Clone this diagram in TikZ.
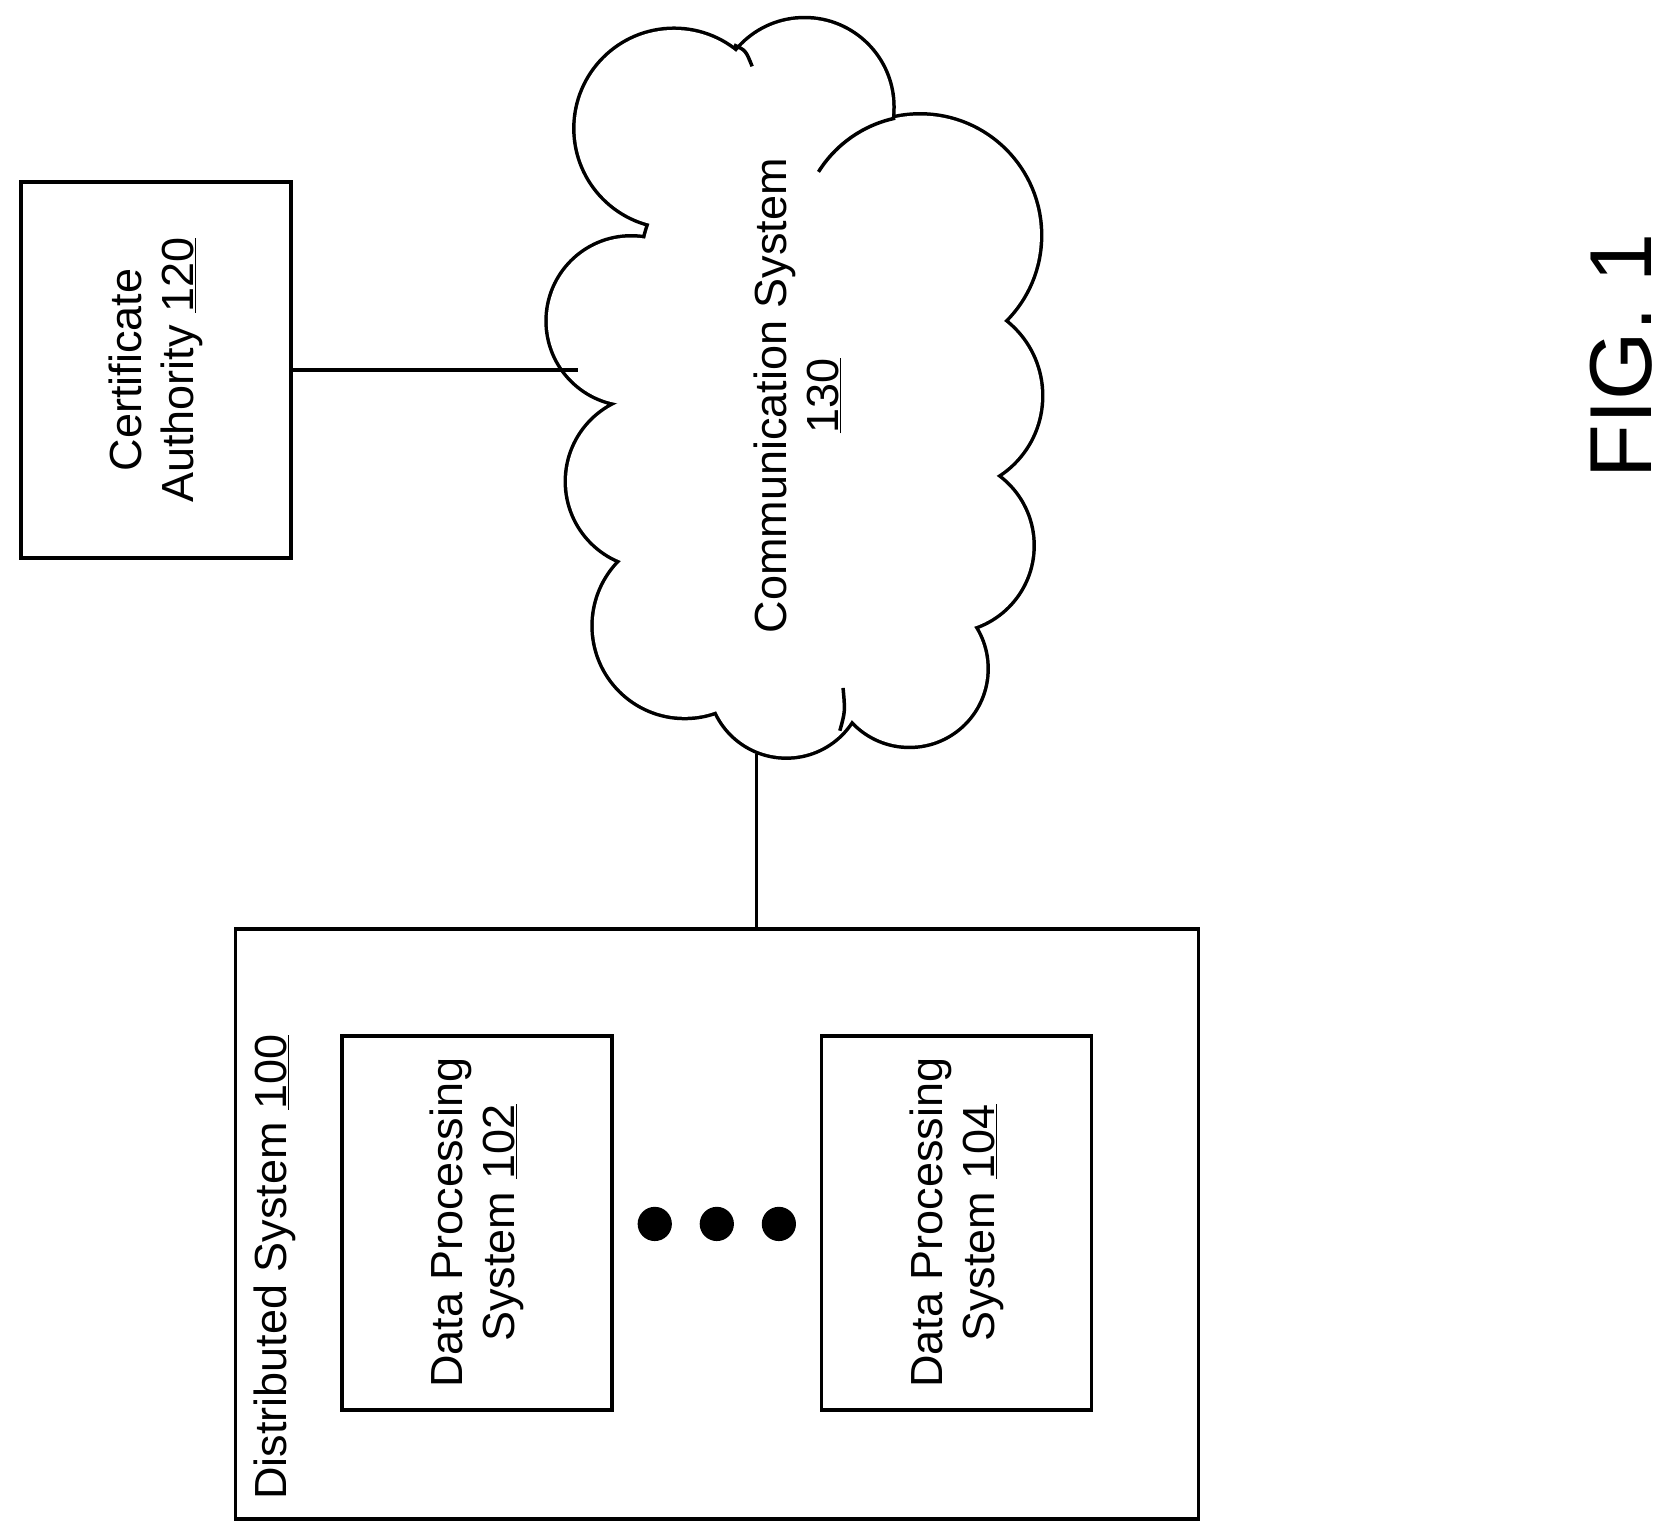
\documentclass[tikz,border=0pt]{standalone}
\usepackage{fontspec}
\setmainfont{Liberation Sans}
\begin{document}
\begin{tikzpicture}[x=1.07pt,y=-1.07pt,
  box/.style={draw,line width=3.5pt,inner sep=0},
  lbl/.style={font=\fontsize{45}{52}\selectfont,align=center,rotate=90},
  ln/.style={line width=3.5pt}]
\useasboundingbox (0,0) rectangle (1560,1434);
\def\cl{(630,120) circle (92) (752,100) circle (82) (860,220) circle (112) (885,370) circle (88) (885,510) circle (80) (850,625) circle (72) (735,635) circle (72) (640,585) circle (85) (610,450) circle (80) (590,300) circle (78) (720,250) circle (120) (740,400) circle (150) (740,540) circle (110)}
\draw[line width=7pt] \cl;
\fill[white] \cl;
\draw[ln] (686,42) .. controls (697,47) .. (703,62);
\draw[ln] (860,220) ++(258:112) arc[start angle=258,end angle=212,radius=112];
\draw[ln] (785,683) .. controls (790,665) .. (788,643);
\node[box,minimum width=270pt,minimum height=376pt] (ca) at (146,346) {};
\node[lbl] at (ca.center) {Certificate\\Authority \underline{120}};
\coordinate (cl) at (540,346);
\coordinate (cb) at (707,705);
\node[lbl] (cs) at (745,370) {Communication System\\\underline{130}};
\node[box,minimum width=963pt,minimum height=590pt] (ds) at (670,1144) {};
\node[lbl,anchor=south west] at (280,1405) {Distributed System \underline{100}};
\node[box,minimum width=270pt,minimum height=374pt] (d1) at (446,1143) {};
\node[lbl] at (d1.center) {Data Processing\\System \underline{102}};
\node[box,minimum width=270pt,minimum height=374pt] (d2) at (894,1143) {};
\node[lbl] at (d2.center) {Data Processing\\System \underline{104}};
\foreach \x/\n in {612/a,670/b,728/c} \fill (\x,1144) circle (16) node (dot\n) {};
\draw[ln] (ca.east) -- (cl);
\draw[ln] (cb) -- (ds.north -| cb);
\node[font=\fontsize{88}{100}\selectfont,rotate=90] (fig) at (1515,333) {FIG. 1};
\end{tikzpicture}
\end{document}
